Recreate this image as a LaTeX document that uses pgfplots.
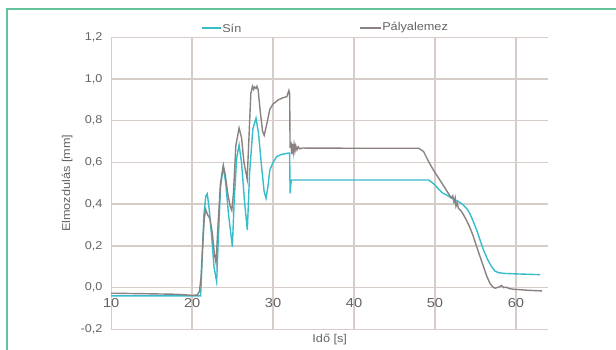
\documentclass[border=0pt]{standalone}
\usepackage{fontspec}
\setmainfont{Liberation Sans}[FakeStretch=1.12]
\usepackage{pgfplots}
\pgfplotsset{compat=1.18}
\definecolor{sinc}{HTML}{36BCCC}
\definecolor{palc}{HTML}{8A8280}
\definecolor{gridc}{HTML}{D6CCC8}
\definecolor{txtc}{HTML}{646464}
\definecolor{framec}{HTML}{62C39B}
\begin{document}
\begin{tikzpicture}
\begin{axis}[
  scale only axis,
  width=327.8pt, height=219pt,
  at={(83.4pt,14.78pt)}, anchor=south west,
  xmin=10, xmax=64, ymin=-0.2, ymax=1.2,
  axis line style={draw=none},
  major tick length=0pt,
  xtick={10,20,30,40,50,60},
  xticklabels={10,20,30,40,50,60},
  ytick={-0.2,0,0.2,0.4,0.6,0.8,1.0,1.2},
  yticklabels={{-0,2},{0,0},{0,2},{0,4},{0,6},{0,8},{1,0},{1,2}},
  grid=major,
  major grid style={color=gridc, line width=1pt},
  yticklabel style={font=\fontsize{8.5}{10}\selectfont, text=txtc, xshift=-3pt},
  xticklabel style={font=\fontsize{9.8}{11}\selectfont, text=txtc, anchor=center, yshift=19.7pt},
  every axis y label/.style={at={(rel axis cs:0,0.5)}, xshift=-33pt, rotate=90, anchor=center},
  every axis x label/.style={at={(rel axis cs:0.5,0)}, yshift=-7.5pt, anchor=center},
  label style={font=\fontsize{8.5}{10}\selectfont, text=txtc},
  xlabel={Idő [s]},
  ylabel={Elmozdulás [mm]},
  clip=false,
]
\addplot[draw=sinc, line width=1.05pt] coordinates {
(10,-0.04) (20,-0.04) (21.05,-0.04) (21.2,0.1) (21.45,0.35) (21.7,0.44) (21.87,0.45)
(22.1,0.38) (22.4,0.25) (22.7,0.1) (23.03,0.028) (23.2,0.2) (23.5,0.48) (23.85,0.58)
(24.15,0.5) (24.5,0.35) (24.97,0.196) (25.2,0.42) (25.5,0.62) (25.8,0.684) (26.1,0.6)
(26.5,0.4) (26.82,0.276) (27.1,0.55) (27.5,0.76) (27.89,0.812) (28.2,0.74) (28.6,0.57)
(28.9,0.46) (29.13,0.428) (29.35,0.48) (29.6,0.564) (30.0,0.6) (30.45,0.628) (31.0,0.638)
(31.9,0.645) (32.05,0.645) (32.1,0.452) (32.2,0.5) (32.3,0.516) (40,0.516) (49.2,0.516)
(49.6,0.505) (50.0,0.492) (50.5,0.47) (51.0,0.452) (51.45,0.444) (52.0,0.43) (52.5,0.42)
(52.8,0.415) (53.0,0.41) (53.2,0.405) (53.5,0.396) (54.0,0.375) (54.3,0.356) (54.7,0.32)
(55.15,0.276) (55.6,0.225) (56.0,0.18) (56.5,0.135) (57.0,0.1) (57.4,0.08) (57.8,0.072)
(58.5,0.068) (60.5,0.065) (63.0,0.062)
};
\addplot[draw=palc, line width=1.05pt] coordinates {
(10,-0.027) (15,-0.030) (18,-0.032) (20,-0.037) (20.6,-0.036) (20.9,-0.02) (21.1,0.05)
(21.3,0.2) (21.5,0.33) (21.67,0.375) (21.9,0.35) (22.2,0.33) (22.5,0.26) (22.75,0.16)
(22.95,0.12) (23.2,0.3) (23.5,0.5) (23.85,0.585) (24.1,0.54) (24.4,0.45) (24.7,0.39)
(24.9,0.37) (25.1,0.45) (25.4,0.68) (25.8,0.765) (26.1,0.72) (26.4,0.6) (26.8,0.52)
(27.0,0.7) (27.25,0.93) (27.45,0.965) (27.6,0.95) (27.7,0.962) (27.9,0.955) (28.0,0.965)
(28.15,0.95) (28.4,0.85) (28.7,0.75) (28.9,0.73) (29.2,0.78) (29.6,0.855) (30.0,0.88)
(30.65,0.9) (31.2,0.91) (31.7,0.915) (31.95,0.945) (32.05,0.93) (32.1,0.67) (32.2,0.70)
(32.3,0.64) (32.4,0.69) (32.5,0.65) (32.6,0.685) (32.7,0.655) (32.8,0.68) (32.95,0.66)
(33.1,0.675) (33.3,0.665) (33.6,0.669) (40,0.668) (48.0,0.668) (48.6,0.652) (49.2,0.605)
(49.8,0.564) (50.4,0.528) (51.0,0.492) (51.6,0.455) (52.0,0.43) (52.2,0.44) (52.35,0.41)
(52.5,0.43) (52.6,0.39) (52.75,0.405) (52.9,0.38) (53.3,0.364) (53.8,0.33) (54.3,0.29)
(54.7,0.25) (55.15,0.196) (55.6,0.145) (56.0,0.1) (56.4,0.055) (56.8,0.02) (57.1,0.005)
(57.4,-0.003) (57.7,0.0) (58.0,0.004) (58.2,0.01) (58.5,0.0) (58.8,0.002) (59.2,-0.005)
(59.7,-0.008) (60.5,-0.01) (61.5,-0.013) (63.2,-0.016)
};
\end{axis}
% legend
\draw[sinc, line width=1.5pt] (151.5pt,240.75pt) -- (165.5pt,240.75pt);
\node[anchor=west, inner sep=0pt, text=txtc, font=\fontsize{8.5}{10}\selectfont] at (166.5pt,240.75pt) {Sín};
\draw[palc, line width=1.5pt] (270pt,240.75pt) -- (285.5pt,240.75pt);
\node[anchor=west, inner sep=0pt, text=txtc, font=\fontsize{8.5}{10}\selectfont] at (286.5pt,240.75pt) {Pályalemez};
\draw[framec, line width=1.5pt] (5.25pt,-2pt) -- (5.25pt,255pt) -- (470pt,255pt);
\pgfresetboundingbox
\useasboundingbox (0,0) rectangle (462pt,261.75pt);
\end{tikzpicture}
\end{document}
